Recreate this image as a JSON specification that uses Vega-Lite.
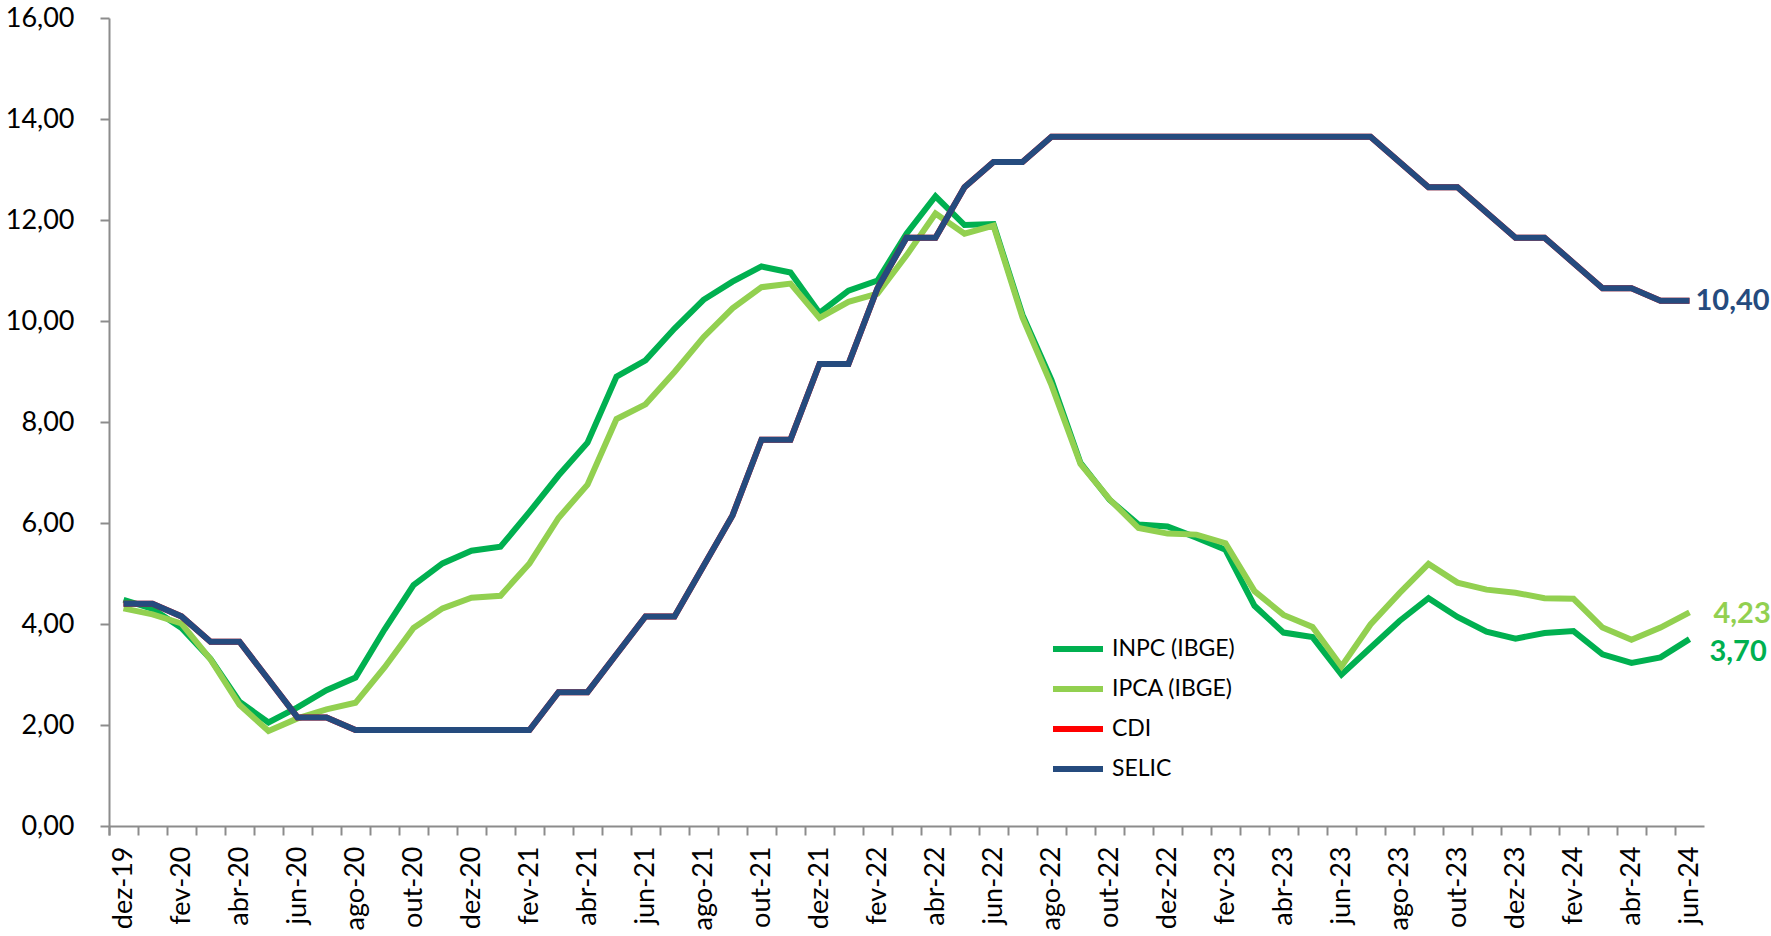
{
  "$schema": "https://vega.github.io/schema/vega-lite/v6.json",
  "autosize": "none",
  "width": 1595,
  "height": 808,
  "padding": {"left": 109, "top": 18, "right": 67, "bottom": 110},
  "background": "white",
  "config": {
    "view": {"stroke": null},
    "font": "Lato",
    "locale": {"number": {"decimal": ",", "thousands": ".", "grouping": [3], "currency": ["R$", ""]}}
  },
  "data": {
    "values": [
      {"m": "dez-19", "INPC (IBGE)": 4.48, "IPCA (IBGE)": 4.31, "CDI": 4.40, "SELIC": 4.40},
      {"m": "jan-20", "INPC (IBGE)": 4.30, "IPCA (IBGE)": 4.19, "CDI": 4.40, "SELIC": 4.40},
      {"m": "fev-20", "INPC (IBGE)": 3.92, "IPCA (IBGE)": 4.01, "CDI": 4.15, "SELIC": 4.15},
      {"m": "mar-20", "INPC (IBGE)": 3.31, "IPCA (IBGE)": 3.30, "CDI": 3.65, "SELIC": 3.65},
      {"m": "abr-20", "INPC (IBGE)": 2.46, "IPCA (IBGE)": 2.40, "CDI": 3.65, "SELIC": 3.65},
      {"m": "mai-20", "INPC (IBGE)": 2.05, "IPCA (IBGE)": 1.88, "CDI": 2.90, "SELIC": 2.90},
      {"m": "jun-20", "INPC (IBGE)": 2.35, "IPCA (IBGE)": 2.13, "CDI": 2.15, "SELIC": 2.15},
      {"m": "jul-20", "INPC (IBGE)": 2.69, "IPCA (IBGE)": 2.31, "CDI": 2.15, "SELIC": 2.15},
      {"m": "ago-20", "INPC (IBGE)": 2.94, "IPCA (IBGE)": 2.44, "CDI": 1.90, "SELIC": 1.90},
      {"m": "set-20", "INPC (IBGE)": 3.89, "IPCA (IBGE)": 3.14, "CDI": 1.90, "SELIC": 1.90},
      {"m": "out-20", "INPC (IBGE)": 4.77, "IPCA (IBGE)": 3.92, "CDI": 1.90, "SELIC": 1.90},
      {"m": "nov-20", "INPC (IBGE)": 5.20, "IPCA (IBGE)": 4.31, "CDI": 1.90, "SELIC": 1.90},
      {"m": "dez-20", "INPC (IBGE)": 5.45, "IPCA (IBGE)": 4.52, "CDI": 1.90, "SELIC": 1.90},
      {"m": "jan-21", "INPC (IBGE)": 5.53, "IPCA (IBGE)": 4.56, "CDI": 1.90, "SELIC": 1.90},
      {"m": "fev-21", "INPC (IBGE)": 6.22, "IPCA (IBGE)": 5.20, "CDI": 1.90, "SELIC": 1.90},
      {"m": "mar-21", "INPC (IBGE)": 6.94, "IPCA (IBGE)": 6.10, "CDI": 2.65, "SELIC": 2.65},
      {"m": "abr-21", "INPC (IBGE)": 7.59, "IPCA (IBGE)": 6.76, "CDI": 2.65, "SELIC": 2.65},
      {"m": "mai-21", "INPC (IBGE)": 8.90, "IPCA (IBGE)": 8.06, "CDI": 3.40, "SELIC": 3.40},
      {"m": "jun-21", "INPC (IBGE)": 9.22, "IPCA (IBGE)": 8.35, "CDI": 4.15, "SELIC": 4.15},
      {"m": "jul-21", "INPC (IBGE)": 9.85, "IPCA (IBGE)": 8.99, "CDI": 4.15, "SELIC": 4.15},
      {"m": "ago-21", "INPC (IBGE)": 10.42, "IPCA (IBGE)": 9.68, "CDI": 5.15, "SELIC": 5.15},
      {"m": "set-21", "INPC (IBGE)": 10.78, "IPCA (IBGE)": 10.25, "CDI": 6.15, "SELIC": 6.15},
      {"m": "out-21", "INPC (IBGE)": 11.08, "IPCA (IBGE)": 10.67, "CDI": 7.65, "SELIC": 7.65},
      {"m": "nov-21", "INPC (IBGE)": 10.96, "IPCA (IBGE)": 10.74, "CDI": 7.65, "SELIC": 7.65},
      {"m": "dez-21", "INPC (IBGE)": 10.16, "IPCA (IBGE)": 10.06, "CDI": 9.15, "SELIC": 9.15},
      {"m": "jan-22", "INPC (IBGE)": 10.60, "IPCA (IBGE)": 10.38, "CDI": 9.15, "SELIC": 9.15},
      {"m": "fev-22", "INPC (IBGE)": 10.80, "IPCA (IBGE)": 10.54, "CDI": 10.65, "SELIC": 10.65},
      {"m": "mar-22", "INPC (IBGE)": 11.73, "IPCA (IBGE)": 11.30, "CDI": 11.65, "SELIC": 11.65},
      {"m": "abr-22", "INPC (IBGE)": 12.47, "IPCA (IBGE)": 12.13, "CDI": 11.65, "SELIC": 11.65},
      {"m": "mai-22", "INPC (IBGE)": 11.90, "IPCA (IBGE)": 11.73, "CDI": 12.65, "SELIC": 12.65},
      {"m": "jun-22", "INPC (IBGE)": 11.92, "IPCA (IBGE)": 11.89, "CDI": 13.15, "SELIC": 13.15},
      {"m": "jul-22", "INPC (IBGE)": 10.12, "IPCA (IBGE)": 10.07, "CDI": 13.15, "SELIC": 13.15},
      {"m": "ago-22", "INPC (IBGE)": 8.83, "IPCA (IBGE)": 8.73, "CDI": 13.65, "SELIC": 13.65},
      {"m": "set-22", "INPC (IBGE)": 7.19, "IPCA (IBGE)": 7.17, "CDI": 13.65, "SELIC": 13.65},
      {"m": "out-22", "INPC (IBGE)": 6.46, "IPCA (IBGE)": 6.47, "CDI": 13.65, "SELIC": 13.65},
      {"m": "nov-22", "INPC (IBGE)": 5.97, "IPCA (IBGE)": 5.90, "CDI": 13.65, "SELIC": 13.65},
      {"m": "dez-22", "INPC (IBGE)": 5.93, "IPCA (IBGE)": 5.79, "CDI": 13.65, "SELIC": 13.65},
      {"m": "jan-23", "INPC (IBGE)": 5.71, "IPCA (IBGE)": 5.77, "CDI": 13.65, "SELIC": 13.65},
      {"m": "fev-23", "INPC (IBGE)": 5.47, "IPCA (IBGE)": 5.60, "CDI": 13.65, "SELIC": 13.65},
      {"m": "mar-23", "INPC (IBGE)": 4.36, "IPCA (IBGE)": 4.65, "CDI": 13.65, "SELIC": 13.65},
      {"m": "abr-23", "INPC (IBGE)": 3.83, "IPCA (IBGE)": 4.18, "CDI": 13.65, "SELIC": 13.65},
      {"m": "mai-23", "INPC (IBGE)": 3.74, "IPCA (IBGE)": 3.94, "CDI": 13.65, "SELIC": 13.65},
      {"m": "jun-23", "INPC (IBGE)": 3.00, "IPCA (IBGE)": 3.16, "CDI": 13.65, "SELIC": 13.65},
      {"m": "jul-23", "INPC (IBGE)": 3.53, "IPCA (IBGE)": 3.99, "CDI": 13.65, "SELIC": 13.65},
      {"m": "ago-23", "INPC (IBGE)": 4.06, "IPCA (IBGE)": 4.61, "CDI": 13.15, "SELIC": 13.15},
      {"m": "set-23", "INPC (IBGE)": 4.51, "IPCA (IBGE)": 5.19, "CDI": 12.65, "SELIC": 12.65},
      {"m": "out-23", "INPC (IBGE)": 4.14, "IPCA (IBGE)": 4.82, "CDI": 12.65, "SELIC": 12.65},
      {"m": "nov-23", "INPC (IBGE)": 3.85, "IPCA (IBGE)": 4.68, "CDI": 12.15, "SELIC": 12.15},
      {"m": "dez-23", "INPC (IBGE)": 3.71, "IPCA (IBGE)": 4.62, "CDI": 11.65, "SELIC": 11.65},
      {"m": "jan-24", "INPC (IBGE)": 3.82, "IPCA (IBGE)": 4.51, "CDI": 11.65, "SELIC": 11.65},
      {"m": "fev-24", "INPC (IBGE)": 3.86, "IPCA (IBGE)": 4.50, "CDI": 11.15, "SELIC": 11.15},
      {"m": "mar-24", "INPC (IBGE)": 3.40, "IPCA (IBGE)": 3.93, "CDI": 10.65, "SELIC": 10.65},
      {"m": "abr-24", "INPC (IBGE)": 3.23, "IPCA (IBGE)": 3.69, "CDI": 10.65, "SELIC": 10.65},
      {"m": "mai-24", "INPC (IBGE)": 3.34, "IPCA (IBGE)": 3.93, "CDI": 10.40, "SELIC": 10.40},
      {"m": "jun-24", "INPC (IBGE)": 3.70, "IPCA (IBGE)": 4.23, "CDI": 10.40, "SELIC": 10.40}
    ]
  },
  "transform": [
    {"fold": ["INPC (IBGE)", "IPCA (IBGE)", "CDI", "SELIC"], "as": ["s", "v"]}
  ],
  "encoding": {
    "x": {
      "field": "m",
      "type": "ordinal",
      "sort": null,
      "bandPosition": 0.5,
      "scale": {"type": "band", "paddingInner": 0, "paddingOuter": 0},
      "axis": {
        "title": null,
        "bandPosition": 0,
        "tickExtra": true,
        "labelAngle": -90,
        "labelAlign": "right",
        "labelBaseline": "middle",
        "labelFontSize": 27,
        "labelColor": "black",
        "labelPadding": 11,
        "labelOverlap": false,
        "labelExpr": "test(/^(dez|fev|abr|jun|ago|out)-/, datum.value) ? datum.value : ''",
        "domainColor": "#8c8c8c",
        "domainWidth": 2,
        "tickColor": "#8c8c8c",
        "tickWidth": 2,
        "tickSize": 9,
        "grid": false
      }
    },
    "y": {
      "field": "v",
      "type": "quantitative",
      "scale": {"domain": [0, 16], "nice": false, "zero": true},
      "axis": {
        "title": null,
        "values": [0, 2, 4, 6, 8, 10, 12, 14, 16],
        "format": ".2f",
        "labelFontSize": 27,
        "labelColor": "black",
        "labelPadding": 26,
        "domainColor": "#8c8c8c",
        "domainWidth": 2,
        "tickColor": "#8c8c8c",
        "tickWidth": 2,
        "tickSize": 9,
        "grid": false
      }
    },
    "color": {
      "field": "s",
      "type": "nominal",
      "scale": {
        "domain": ["INPC (IBGE)", "IPCA (IBGE)", "CDI", "SELIC"],
        "range": ["#00B050", "#92D050", "#FF0000", "#254B7E"]
      },
      "legend": {
        "title": null,
        "orient": "none",
        "legendX": 941,
        "legendY": 603,
        "symbolType": "stroke",
        "symbolSize": 2500,
        "symbolStrokeWidth": 6,
        "labelFontSize": 23,
        "labelColor": "black",
        "labelOffset": 6,
        "rowPadding": 0,
        "padding": 0
      }
    }
  },
  "layer": [
    {"transform": [{"filter": "datum.s === 'INPC (IBGE)'"}], "mark": {"type": "line", "strokeWidth": 6}},
    {"transform": [{"filter": "datum.s === 'IPCA (IBGE)'"}], "mark": {"type": "line", "strokeWidth": 6}},
    {"transform": [{"filter": "datum.s === 'CDI'"}], "mark": {"type": "line", "strokeWidth": 6}},
    {"transform": [{"filter": "datum.s === 'SELIC'"}], "mark": {"type": "line", "strokeWidth": 6}},
    {
      "transform": [{"filter": "datum.m === 'jun-24' && datum.s === 'SELIC'"}],
      "mark": {"type": "text", "align": "left", "baseline": "middle", "dx": 6, "fontSize": 29, "fontWeight": "bold"},
      "encoding": {"text": {"field": "v", "type": "quantitative", "format": ".2f"}}
    },
    {
      "transform": [{"filter": "datum.m === 'jun-24' && datum.s === 'IPCA (IBGE)'"}],
      "mark": {"type": "text", "align": "left", "baseline": "middle", "dx": 24, "dy": 2, "fontSize": 29, "fontWeight": "bold"},
      "encoding": {"text": {"field": "v", "type": "quantitative", "format": ".2f"}}
    },
    {
      "transform": [{"filter": "datum.m === 'jun-24' && datum.s === 'INPC (IBGE)'"}],
      "mark": {"type": "text", "align": "left", "baseline": "middle", "dx": 20, "dy": 13, "fontSize": 29, "fontWeight": "bold"},
      "encoding": {"text": {"field": "v", "type": "quantitative", "format": ".2f"}}
    }
  ]
}
